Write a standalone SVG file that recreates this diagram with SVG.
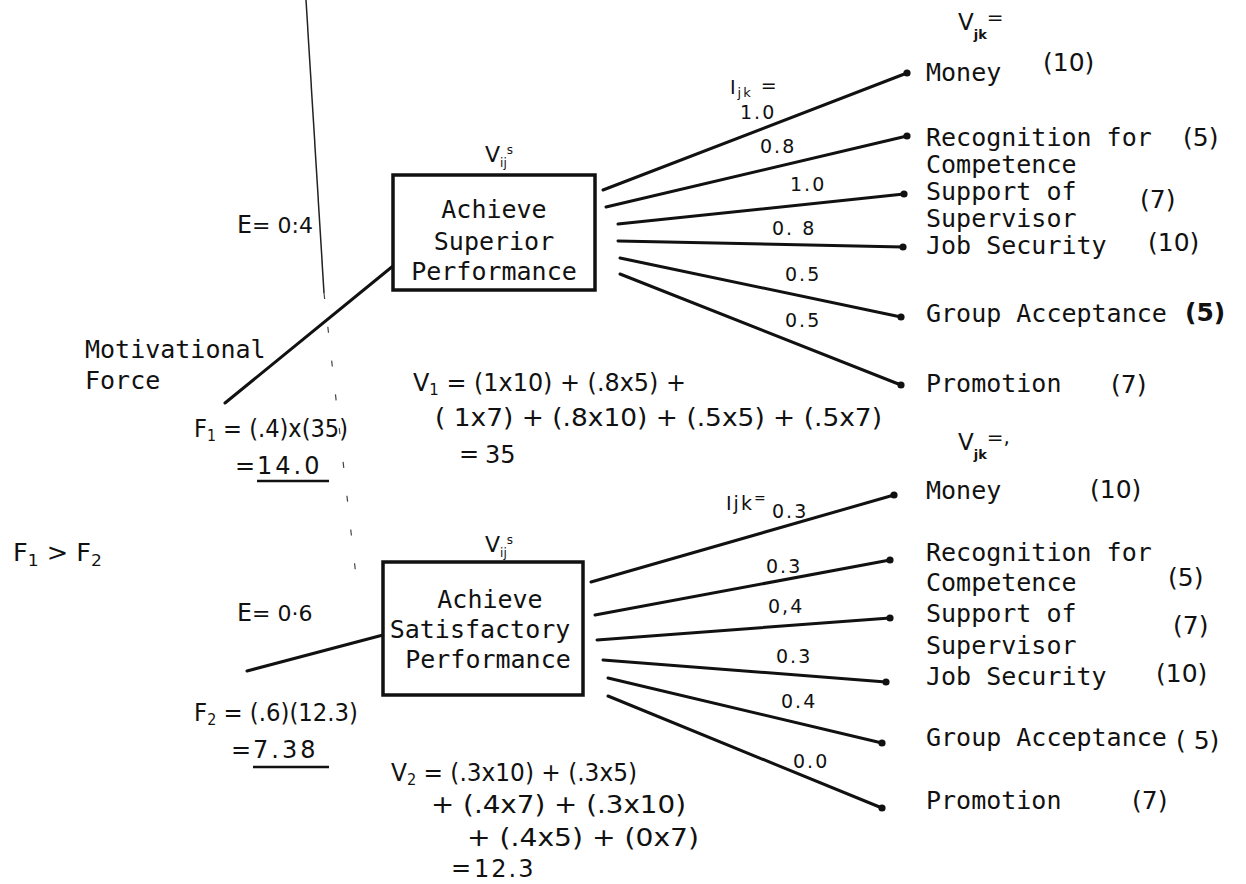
<svg xmlns="http://www.w3.org/2000/svg" width="1246" height="884" viewBox="0 0 1246 884">
<defs>
<style>
.t{font-family:"DejaVu Sans Mono","Liberation Mono",monospace;font-size:25px;fill:#111}
.h{font-family:"DejaVu Sans","Liberation Sans",sans-serif;fill:#111}
.e{font-family:"DejaVu Sans","Liberation Sans",sans-serif;font-size:19px;letter-spacing:2px;fill:#111}
.p{font-family:"DejaVu Sans","Liberation Sans",sans-serif;font-size:25px;fill:#111}
.f{font-family:"DejaVu Sans","Liberation Sans",sans-serif;font-size:24px;fill:#111}
.box{fill:#fff;stroke:#111;stroke-width:3.5}
.c{stroke:#111;stroke-width:3;fill:none;stroke-linecap:round}
.u{stroke:#111;stroke-width:2.5;fill:none}
</style>
<marker id="dot" viewBox="0 0 8 8" refX="4" refY="4" markerWidth="8" markerHeight="8" markerUnits="userSpaceOnUse">
<circle cx="4" cy="4" r="3.6" fill="#111"/>
</marker>
</defs>
<rect width="1246" height="884" fill="#fff"/>

<g id="fold-line">
<line x1="306" y1="0" x2="324" y2="293" stroke="#222" stroke-width="1.5"/>
<line x1="324" y1="293" x2="357" y2="585" stroke="#444" stroke-width="1.2" stroke-dasharray="6 28"/>
</g>

<g id="connectors">
<path class="c" d="M225,403 L393,266"/>
<path class="c" d="M247,671 L383,635"/>
<path class="c" marker-end="url(#dot)" d="M603,190 L907,73"/>
<path class="c" marker-end="url(#dot)" d="M606,207 L907,136"/>
<path class="c" marker-end="url(#dot)" d="M618,224 L904,194"/>
<path class="c" marker-end="url(#dot)" d="M618,241 L903,247"/>
<path class="c" marker-end="url(#dot)" d="M620,258 L901,317"/>
<path class="c" marker-end="url(#dot)" d="M620,274 L901,385"/>
<path class="c" marker-end="url(#dot)" d="M591,582 L894,495"/>
<path class="c" marker-end="url(#dot)" d="M595,615 L890,560"/>
<path class="c" marker-end="url(#dot)" d="M597,640 L890,618"/>
<path class="c" marker-end="url(#dot)" d="M603,660 L886,682"/>
<path class="c" marker-end="url(#dot)" d="M608,678 L882,743"/>
<path class="c" marker-end="url(#dot)" d="M608,696 L882,808"/>
</g>

<g id="edge-labels">
<text class="e" x="730" y="94">I<tspan font-size="13" dy="3">jk</tspan><tspan dy="-5"> =</tspan></text>
<text class="e" x="740" y="119">1.0</text>
<text class="e" x="760" y="153">0.8</text>
<text class="e" x="790" y="191">1.0</text>
<text class="e" x="772" y="235">0. 8</text>
<text class="e" x="785" y="281">0.5</text>
<text class="e" x="785" y="327">0.5</text>
<text class="e" x="726" y="510" letter-spacing="1">Ijk<tspan font-size="14" dy="-7">=</tspan></text>
<text class="e" x="772" y="518">0.3</text>
<text class="e" x="766" y="573">0.3</text>
<text class="e" x="768" y="613">0,4</text>
<text class="e" x="776" y="663">0.3</text>
<text class="e" x="781" y="708">0.4</text>
<text class="e" x="793" y="768">0.0</text>
</g>

<g id="node-superior">
<text class="h" x="485" y="162" font-size="22">V<tspan font-size="12" dy="5">ij</tspan><tspan font-size="12" dy="-13">s</tspan></text>
<rect class="box" x="393" y="175" width="202" height="115"/>
<text class="t" text-anchor="middle"><tspan x="494" y="218">Achieve</tspan><tspan x="494" y="250">Superior</tspan><tspan x="494" y="280">Performance</tspan></text>
</g>

<g id="node-satisfactory">
<text class="h" x="485" y="552" font-size="22">V<tspan font-size="12" dy="5">ij</tspan><tspan font-size="12" dy="-13">s</tspan></text>
<rect class="box" x="383" y="562" width="200" height="133"/>
<text class="t" text-anchor="middle"><tspan x="490" y="608">Achieve</tspan><tspan x="480" y="638">Satisfactory</tspan><tspan x="488" y="668">Performance</tspan></text>
</g>

<g id="outcomes-upper">
<text class="h" x="958" y="30" font-size="23">V<tspan font-size="13" dy="9" font-weight="bold">jk</tspan><tspan dy="-15" font-size="20">=</tspan></text>
<g id="out-money-1"><text class="t" x="926" y="81">Money</text><text class="p" x="1043" y="71">(10)</text></g>
<g id="out-recognition-1"><text class="t"><tspan x="926" y="146">Recognition for</tspan><tspan x="926" y="173">Competence</tspan></text><text class="p" x="1183" y="146">(5)</text></g>
<g id="out-support-1"><text class="t"><tspan x="926" y="200">Support of</tspan><tspan x="926" y="227">Supervisor</tspan></text><text class="p" x="1140" y="208">(7)</text></g>
<g id="out-security-1"><text class="t" x="926" y="254">Job Security</text><text class="p" x="1148" y="251">(10)</text></g>
<g id="out-group-1"><text class="t" x="926" y="322">Group Acceptance</text><text class="p" x="1185" y="321" font-weight="bold">(5)</text></g>
<g id="out-promotion-1"><text class="t" x="926" y="392">Promotion</text><text class="p" x="1111" y="393" font-size="29">(7)</text></g>
</g>

<g id="outcomes-lower">
<text class="h" x="958" y="450" font-size="23">V<tspan font-size="13" dy="9" font-weight="bold">jk</tspan><tspan dy="-15" font-size="20">=,</tspan></text>
<g id="out-money-2"><text class="t" x="926" y="499">Money</text><text class="p" x="1090" y="498">(10)</text></g>
<g id="out-recognition-2"><text class="t"><tspan x="926" y="561">Recognition for</tspan><tspan x="926" y="591">Competence</tspan></text><text class="p" x="1168" y="586">(5)</text></g>
<g id="out-support-2"><text class="t"><tspan x="926" y="622">Support of</tspan><tspan x="926" y="654">Supervisor</tspan></text><text class="p" x="1173" y="634">(7)</text></g>
<g id="out-security-2"><text class="t" x="926" y="685">Job Security</text><text class="p" x="1156" y="682">(10)</text></g>
<g id="out-group-2"><text class="t" x="926" y="746">Group Acceptance</text><text class="p" x="1176" y="749">( 5)</text></g>
<g id="out-promotion-2"><text class="t" x="926" y="809">Promotion</text><text class="p" x="1132" y="809">(7)</text></g>
</g>

<g id="force-upper">
<text class="t" x="237" y="233">E<tspan class="h" font-size="22">= 0:4</tspan></text>
<text class="t"><tspan x="85" y="358">Motivational</tspan><tspan x="85" y="389">Force</tspan></text>
<text class="f" x="194" y="437" textLength="154" lengthAdjust="spacingAndGlyphs">F<tspan font-size="15" dy="4">1</tspan><tspan dy="-4"> = (.4)x(35)</tspan></text>
<text class="f" x="235" y="474" font-size="18">=</text>
<text class="f" x="257" y="474" font-size="27" letter-spacing="3">14.0</text>
<line class="u" x1="257" y1="481" x2="329" y2="481"/>
</g>

<g id="force-lower">
<text class="t" x="237" y="621">E<tspan class="h" font-size="22">= 0·6</tspan></text>
<text class="f" x="194" y="721" textLength="164" lengthAdjust="spacingAndGlyphs">F<tspan font-size="15" dy="4">2</tspan><tspan dy="-4"> = (.6)(12.3)</tspan></text>
<text class="f" x="231" y="758" font-size="18">=</text>
<text class="f" x="253" y="758" font-size="27" letter-spacing="3">7.38</text>
<line class="u" x1="253" y1="767" x2="329" y2="767"/>
</g>

<g id="comparison">
<text class="f" x="13" y="561" font-size="27" textLength="89" lengthAdjust="spacingAndGlyphs">F<tspan font-size="16" dy="5">1</tspan><tspan dy="-5"> &gt; F</tspan><tspan font-size="16" dy="5">2</tspan></text>
</g>

<g id="valence-upper">
<text class="f" x="413" y="391" textLength="273" lengthAdjust="spacingAndGlyphs">V<tspan font-size="15" dy="4">1</tspan><tspan dy="-4"> = (1x10) + (.8x5) +</tspan></text>
<text class="f" x="435" y="426" textLength="447" lengthAdjust="spacingAndGlyphs">( 1x7) + (.8x10) + (.5x5) + (.5x7)</text>
<text class="f" x="459" y="462" font-size="18">=</text>
<text class="f" x="485" y="463" font-size="28">35</text>
</g>

<g id="valence-lower">
<text class="f" x="391" y="781" textLength="246" lengthAdjust="spacingAndGlyphs">V<tspan font-size="15" dy="4">2</tspan><tspan dy="-4"> = (.3x10) + (.3x5)</tspan></text>
<text class="f" x="431" y="813" textLength="255" lengthAdjust="spacingAndGlyphs">+ (.4x7) + (.3x10)</text>
<text class="f" x="467" y="846" textLength="232" lengthAdjust="spacingAndGlyphs">+ (.4x5) + (0x7)</text>
<text class="f" x="451" y="876" font-size="18">=</text>
<text class="f" x="474" y="877" font-size="26" letter-spacing="2">12.3</text>
</g>
</svg>
